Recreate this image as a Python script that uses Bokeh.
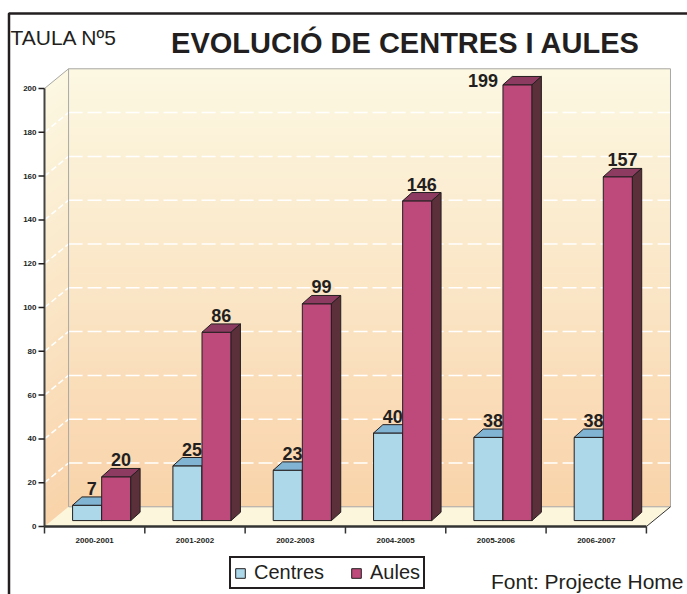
import numpy as np
from bokeh.plotting import figure
from bokeh.models import (Range1d, Label, Legend, LegendItem, BoxAnnotation)
from bokeh.embed import file_html
from bokeh.resources import INLINE
from bokeh.core.properties import value

# ---------------- data ----------------
categories = ["2000-2001", "2001-2002", "2002-2003", "2004-2005", "2005-2006", "2006-2007"]
centres = [7, 25, 23, 40, 38, 38]
aules = [20, 86, 99, 146, 199, 157]
y_ticks = [0, 20, 40, 60, 80, 100, 120, 140, 160, 180, 200]
series_names = ["Centres", "Aules"]
title_text = "EVOLUCIÓ DE CENTRES I AULES"
table_text = "TAULA Nº5"
source_text = "Font: Projecte Home"

# ---------------- geometry / style ----------------
W, H = 687, 594
N = len(categories)
YMAX = y_ticks[-1]
OX, OY = 44, 526          # pixel position of the (0, 0) corner of the chart box
PXX, PXY = 100.32, 2.19   # pixels per category / per unit
DX, DY = 0.24, 9.0        # depth of the 3D box
SX, SY = 0.07, 2.7        # offset of the bars into the box
BX, BY = 0.093, 3.8       # depth of each bar
BW = 0.29                 # bar width
FONT = "Liberation Sans"
TXT = "#231F20"

C_COLS = ("#ACD8EA", "#80B4D2", "#5F8FAA")   # front, top, side
A_COLS = ("#BE4A7B", "#8E3B61", "#5B303A")

p = figure(width=W, height=H,
           x_range=Range1d(-OX / PXX, (W - OX) / PXX),
           y_range=Range1d(-(H - OY) / PXY, OY / PXY),
           output_backend="svg", toolbar_location=None,
           x_axis_location=None, y_axis_location=None,
           min_border=0)
p.outline_line_color = None
p.xgrid.visible = False
p.ygrid.visible = False
p.background_fill_color = "white"
p.border_fill_color = "white"

# ---------------- walls with gradient ----------------
def mix(c0, c1, t):
    a = np.array([int(c0[i:i + 2], 16) for i in (1, 3, 5)], float)
    b = np.array([int(c1[i:i + 2], 16) for i in (1, 3, 5)], float)
    m = a + (b - a) * t
    return "#%02x%02x%02x" % tuple(int(round(v)) for v in m)

BOT, TOP = "#F9D3AA", "#FCF8E2"
NS = 60
edges = np.linspace(0, YMAX, NS + 1)
cols = [mix(BOT, TOP, (k + 0.5) / NS) for k in range(NS)]
p.quad(left=DX, right=N + DX, bottom=edges[:-1] + DY, top=edges[1:] + DY,
       fill_color=cols, line_color=cols, line_width=1)
lw_xs = [[0, DX, DX, 0] for k in range(NS)]
lw_ys = [[edges[k], edges[k] + DY, edges[k + 1] + DY, edges[k + 1]] for k in range(NS)]
p.patches(lw_xs, lw_ys, fill_color=cols, line_color=cols, line_width=1)

# grid lines on back wall and left wall
gl = [t for t in y_ticks if 0 < t < YMAX]
p.multi_line([[DX, N + DX] for t in gl], [[t + DY, t + DY] for t in gl],
             line_color="white", line_width=1.5, line_dash="14 5")
p.multi_line([[0, DX] for t in gl], [[t, t + DY] for t in gl],
             line_color="white", line_width=1.5, line_dash="6 3")

# floor
p.patch([0, N, N + DX, DX], [0, 0, DY, DY], fill_color="#FCF6DC", line_color=None)
# wall outlines
p.line([DX, DX, N + DX, N + DX], [DY, YMAX + DY, YMAX + DY, DY], line_color="#A8A8A8", line_width=1)
p.line([0, DX], [YMAX, YMAX + DY], line_color="#A8A8A8", line_width=1)
p.line([DX, N + DX], [DY, DY], line_color="#A8A8A8", line_width=1)
p.line([N, N + DX], [0, DY], line_color="#333333", line_width=1)

# ---------------- axes (drawn through the plot scales) ----------------
p.segment(x0=[0], y0=[0], x1=[0], y1=[YMAX], line_color="#444444", line_width=2)
p.segment(x0=[-6 / PXX] * len(y_ticks), y0=y_ticks, x1=[0] * len(y_ticks), y1=y_ticks,
          line_color=TXT, line_width=1.5)
p.text([-6 / PXX] * len(y_ticks), y_ticks, text=[str(t) for t in y_ticks],
       text_align="right", text_baseline="middle", x_offset=-2,
       text_font=value(FONT), text_font_style="bold", text_font_size="8px", text_color=TXT)

bounds = list(range(N + 1))
p.segment(x0=bounds, y0=[0] * len(bounds), x1=bounds, y1=[-7 / PXY] * len(bounds),
          line_color="#333333", line_width=1.5)
p.segment(x0=[0], y0=[0], x1=[N], y1=[0], line_color="#333333", line_width=2.5)
p.text([i + 0.5 for i in range(N)], [0] * N, text=categories,
       text_align="center", text_baseline="top", y_offset=11,
       text_font=value(FONT), text_font_style="bold", text_font_size="8px", text_color=TXT)

# ---------------- bars (one renderer per series and face) ----------------
renderers = []
lab_x, lab_y, lab_t = [], [], []
llab_x, llab_y, llab_t = [], [], []
for j, (vals, cc) in enumerate([(centres, C_COLS), (aules, A_COLS)]):
    front_x, front_y, top_x, top_y, side_x, side_y = [], [], [], [], [], []
    for i in range(N):
        c = i + 0.5 + SX
        v = vals[i]
        x0 = c - BW if j == 0 else c
        x1 = x0 + BW
        y0, y1 = SY, SY + v
        front_x.append([x0, x1, x1, x0]); front_y.append([y0, y0, y1, y1])
        top_x.append([x0, x1, x1 + BX, x0 + BX]); top_y.append([y1, y1, y1 + BY, y1 + BY])
        side_x.append([x1, x1 + BX, x1 + BX, x1]); side_y.append([y0, y0 + BY, y1 + BY, y1])
        if y1 + BY + 6 > YMAX + DY:
            llab_x.append(x0); llab_y.append(y1 + BY / 2); llab_t.append(str(v))
        else:
            lab_x.append((x0 + x1) / 2 + BX / 2); lab_y.append(y1 + BY); lab_t.append(str(v))
    rf = p.patches(front_x, front_y, fill_color=cc[0], line_color="#231F20", line_width=1)
    p.patches(top_x, top_y, fill_color=cc[1], line_color="#231F20", line_width=1)
    p.patches(side_x, side_y, fill_color=cc[2], line_color="#231F20", line_width=1)
    renderers.append(rf)

p.text(lab_x, lab_y, text=lab_t, text_align="center", text_baseline="bottom", y_offset=-2,
       text_font=value(FONT), text_font_style="bold", text_font_size="18px", text_color=TXT)
p.text(llab_x, llab_y, text=llab_t, text_align="right", text_baseline="middle", x_offset=-5,
       text_font=value(FONT), text_font_style="bold", text_font_size="18px", text_color=TXT)

# ---------------- legend ----------------
leg = Legend(items=[LegendItem(label=series_names[k], renderers=[renderers[k]]) for k in range(2)],
             location=(229, 5), orientation="horizontal",
             border_line_color="#231F20", border_line_width=2, border_line_alpha=1,
             background_fill_color="white", background_fill_alpha=1,
             label_text_font=FONT, label_text_font_size="20px", label_text_color=TXT,
             label_height=16, label_text_baseline="middle", label_text_line_height=0.9,
             glyph_width=12, glyph_height=12, label_standoff=8, spacing=26,
             padding=3, margin=0)
p.add_layout(leg)

# ---------------- texts and outer frame (screen px from bottom-left) ----------------
p.add_layout(Label(x=405, y=H - 42, x_units="screen", y_units="screen", text=title_text,
                   text_align="center", text_baseline="alphabetic", text_font=FONT,
                   text_font_style="bold", text_font_size="29px", text_color=TXT))
p.add_layout(Label(x=10, y=H - 37, x_units="screen", y_units="screen", text=table_text,
                   text_align="left", text_baseline="alphabetic", text_font=FONT,
                   text_font_size="21px", text_color=TXT))
p.add_layout(Label(x=683, y=H - 581, x_units="screen", y_units="screen", text=source_text,
                   text_align="right", text_baseline="alphabetic", text_font=FONT,
                   text_font_size="21px", text_color=TXT))
p.add_layout(BoxAnnotation(left=8.5, right=2000, bottom=-2000, top=H - 13,
                           left_units="screen", right_units="screen",
                           bottom_units="screen", top_units="screen",
                           fill_alpha=0, line_color="#231F20", line_alpha=1, line_width=2.5))

open("out.html", "w").write(file_html(p, INLINE))
